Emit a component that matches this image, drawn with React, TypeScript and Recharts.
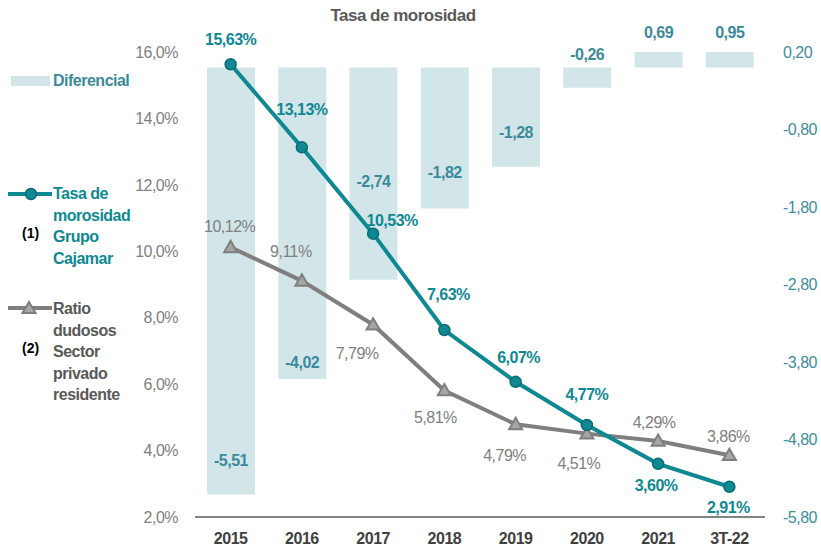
import React from 'react';
import { ComposedChart, Bar, Line, XAxis, YAxis, LabelList } from 'recharts';

const years = ['2015', '2016', '2017', '2018', '2019', '2020', '2021', '3T-22'];
const cajamarRate = [15.63, 13.13, 10.53, 7.63, 6.07, 4.77, 3.6, 2.91];
const sectorRatio = [10.12, 9.11, 7.79, 5.81, 4.79, 4.51, 4.29, 3.86];
const differential = [-5.51, -4.02, -2.74, -1.82, -1.28, -0.26, 0.69, 0.95];
const leftTicks = [2, 4, 6, 8, 10, 12, 14, 16];
const rightTicks = [0.2, -0.8, -1.8, -2.8, -3.8, -4.8, -5.8];

const FONT = "'Liberation Sans', Arial, sans-serif";
const TEAL = '#0E8892';
const TEAL_DARK = '#0A6C74';
const GREY = '#7F7F7F';
const BAR = '#D2E6E9';
const BAR_TEXT = '#3A8A9C';
const SQUEEZE = -0.5; // the original uses a narrow font

// hand placement of the labels, like in the original sheet
const cajamarLabelOffset = [[0, -25], [0, -38], [19, -13], [4, -36], [3, -24], [0, -30], [-2, 22], [-1, 21]];
const sectorLabelOffset = [[-1, -21], [-11, -29], [-16, 29], [-9, 27], [-11, 31], [-8, 30], [-4, -18], [-1, -19]];

const data = years.map((year, i) => ({
  year,
  cajamar: cajamarRate[i],
  sector: sectorRatio[i],
  diff: differential[i],
}));

const pct = (v: number) => v.toFixed(2).replace('.', ',') + '%';

const TriangleDot = (props: any) => {
  const { cx, cy } = props;
  if (cx == null || cy == null) return null;
  const s = 6.5;
  return (
    <polygon
      points={`${cx},${cy - s} ${cx - s},${cy + s * 0.75} ${cx + s},${cy + s * 0.75}`}
      fill="#A6A6A6"
      stroke={GREY}
      strokeWidth={2}
    />
  );
};

const makeLineLabel = (offsets: number[][], color: string, bold: boolean) => (props: any) => {
  const { x, y, value, index } = props;
  const [dx, dy] = offsets[index] || [0, -20];
  return (
    <text
      x={x + dx}
      y={y + dy}
      textAnchor="middle"
      dominantBaseline="central"
      fill={color}
      fontFamily={FONT}
      fontSize={16}
      letterSpacing={SQUEEZE}
      fontWeight={bold ? 'bold' : 'normal'}
    >
      {pct(value)}
    </text>
  );
};

const BarLabel = (props: any) => {
  const { x, y, width, height, value, index } = props;
  const top = Math.min(y, y + height);
  const bottom = Math.max(y, y + height);
  let ly;
  if (value >= 0) ly = bottom - 35;
  else if (index === 5) ly = top - 13;
  else ly = bottom - [34, 17, 98, 36, 34][index];
  return (
    <text
      x={x + width / 2}
      y={ly}
      textAnchor="middle"
      dominantBaseline="central"
      fill={BAR_TEXT}
      fontFamily={FONT}
      fontSize={16}
      letterSpacing={SQUEEZE}
      fontWeight="bold"
    >
      {value.toFixed(2).replace('.', ',')}
    </text>
  );
};

const legendText: React.CSSProperties = {
  position: 'absolute',
  fontFamily: FONT,
  fontWeight: 'bold',
  fontSize: 16,
  letterSpacing: SQUEEZE,
  lineHeight: '21.5px',
};

export default function App() {
  return (
    <div style={{ position: 'absolute', left: 0, top: 0, width: 821, height: 547, background: '#fff' }}>
      <div
        style={{
          position: 'absolute', left: 0, width: 806, top: 6, textAlign: 'center',
          fontFamily: FONT, fontWeight: 'bold', fontSize: 17, letterSpacing: SQUEEZE, color: '#595959',
        }}
      >
        Tasa de morosidad
      </div>

      <ComposedChart width={821} height={547} data={data} margin={{ top: 52, right: 0, bottom: 0, left: 0 }}>
        <XAxis
          dataKey="year"
          height={30}
          tickLine={false}
          tickSize={0}
          tickMargin={16}
          axisLine={{ stroke: '#595959', strokeWidth: 1.5 }}
          tick={{ fill: '#404040', fontFamily: FONT, fontSize: 16, fontWeight: 'bold', letterSpacing: SQUEEZE }}
        />
        <YAxis
          yAxisId="left"
          orientation="left"
          width={195}
          domain={[2, 16]}
          ticks={leftTicks}
          interval={0}
          axisLine={false}
          tickLine={false}
          tickSize={0}
          tickMargin={17}
          tickFormatter={(v: number) => v.toFixed(1).replace('.', ',') + '%'}
          tick={{ fill: '#7F7F7F', fontFamily: FONT, fontSize: 16, letterSpacing: SQUEEZE }}
        />
        <YAxis
          yAxisId="right"
          orientation="right"
          width={56}
          domain={[-5.8, 0.2]}
          ticks={rightTicks}
          interval={0}
          allowDataOverflow
          axisLine={false}
          tickLine={false}
          tickSize={0}
          tickMargin={18}
          tickFormatter={(v: number) => v.toFixed(2).replace('.', ',')}
          tick={{ fill: '#3E8EA0', fontFamily: FONT, fontSize: 16, letterSpacing: SQUEEZE }}
        />
        <Bar yAxisId="right" dataKey="diff" fill={BAR} barSize={48} isAnimationActive={false}>
          <LabelList dataKey="diff" content={BarLabel} />
        </Bar>
        <Line
          yAxisId="left"
          type="linear"
          dataKey="sector"
          stroke={GREY}
          strokeWidth={4}
          dot={<TriangleDot />}
          isAnimationActive={false}
        >
          <LabelList dataKey="sector" content={makeLineLabel(sectorLabelOffset, '#808080', false)} />
        </Line>
        <Line
          yAxisId="left"
          type="linear"
          dataKey="cajamar"
          stroke={TEAL}
          strokeWidth={4}
          dot={{ r: 5.5, fill: TEAL, stroke: TEAL_DARK, strokeWidth: 1.5 }}
          isAnimationActive={false}
        >
          <LabelList dataKey="cajamar" content={makeLineLabel(cajamarLabelOffset, TEAL, true)} />
        </Line>
      </ComposedChart>

      {/* legend on the left */}
      <div style={{ position: 'absolute', left: 11, top: 76, width: 39, height: 10, background: BAR }} />
      <div style={{ ...legendText, left: 53, top: 70, color: BAR_TEXT }}>Diferencial</div>

      <svg style={{ position: 'absolute', left: 0, top: 184 }} width={56} height={20}>
        <line x1={8} y1={10} x2={52} y2={10} stroke={TEAL} strokeWidth={4} />
        <circle cx={31} cy={10} r={5.5} fill={TEAL} stroke={TEAL_DARK} strokeWidth={1.5} />
      </svg>
      <div style={{ ...legendText, left: 53, top: 183, color: TEAL }}>
        Tasa de<br />morosidad<br />Grupo<br />Cajamar
      </div>
      <div style={{ ...legendText, left: 22, top: 223, fontSize: 14, letterSpacing: 0, color: '#000' }}>(1)</div>

      <svg style={{ position: 'absolute', left: 0, top: 298 }} width={56} height={20}>
        <line x1={8} y1={10} x2={52} y2={10} stroke={GREY} strokeWidth={4} />
        <polygon points="29,4 22.5,15 35.5,15" fill="#A6A6A6" stroke={GREY} strokeWidth={2} />
      </svg>
      <div style={{ ...legendText, left: 53, top: 298, color: '#595959' }}>
        Ratio<br />dudosos<br />Sector<br />privado<br />residente
      </div>
      <div style={{ ...legendText, left: 22, top: 338, fontSize: 14, letterSpacing: 0, color: '#000' }}>(2)</div>
    </div>
  );
}
